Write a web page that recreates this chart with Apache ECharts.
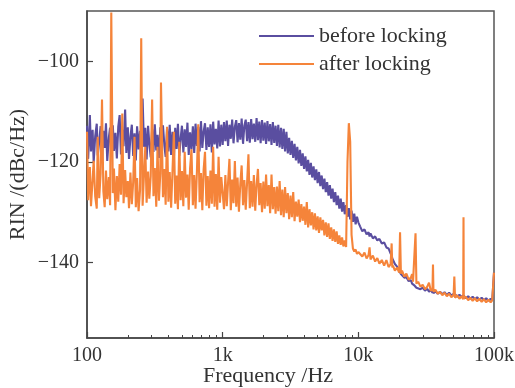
<!DOCTYPE html>
<html><head><meta charset="utf-8">
<script src="https://cdn.jsdelivr.net/npm/echarts@6/dist/echarts.min.js"></script>
<style>html,body{margin:0;padding:0;background:#fff}#c{width:515px;height:388px}</style>
</head><body><div id="c"></div>
<script>
// Frequency grid (Hz), shared by both series
const freq = [
  100,102,105,107,110,112,115,118,120,123, 126,129,132,135,138,141,145,148,151,155,
  158,162,166,170,174,178,182,186,191,195, 200,204,209,214,219,224,229,234,240,246,
  251,257,263,269,275,282,288,295,302,309, 316,324,331,339,347,351,363,372,380,389,
  398,407,417,427,437,447,457,468,479,490, 501,513,525,537,550,562,575,589,603,617,
  631,646,661,676,692,708,724,741,759,776, 794,813,832,851,871,891,912,933,955,977,
  1000,1023,1047,1072,1096,1122,1148,1175,1202,1230, 1259,1288,1318,1349,1380,1413,1445,1479,1514,1549,
  1585,1622,1660,1698,1738,1778,1820,1862,1905,1950, 1995,2042,2089,2138,2188,2239,2291,2344,2399,2455,
  2512,2570,2630,2692,2754,2818,2884,2951,3020,3090, 3162,3236,3311,3388,3467,3548,3631,3715,3802,3890,
  3981,4074,4169,4266,4365,4467,4571,4677,4786,4898, 5012,5129,5248,5370,5495,5623,5754,5888,6026,6166,
  6310,6457,6607,6761,6918,7079,7244,7413,7586,7762, 7943,8128,8318,8511,8710,8913,9120,9333,9550,9772,
  10000,
  10300,10700,11100,11500,11900,12100,12300,12800,13300,13800,14300,14900,15500,16100,16700,17300,17600,17800,18000,18600,
  19300,20000,20300,20600,21000,21800,22600,23500,24400,24900,25300,26000,26400,26800,27600,28700,29800,31000,32200,33200,
  34200,35200,35500,35800,37000,38500,40000,41600,43200,44900,46700,48500,50400,51000,51600,53500,55600,57700,59300,59600,
  59900,62000,64500,67000,69600,72300,75100,78000,81100,84300,87600,91000,94500,97000,98500,99300,100000
];
// RIN before locking (dBc/Hz)
const beforeLocking = [
  -112.8,-119.4,-110.7,-117.9,-113.6,-120.1,-114.8,-112.4,-118.7,-116.0, -112.9,-119.6,-113.8,-117.2,-112.3,-119.8,-115.1,-113.2,-118.9,-112.7,
  -117.8,-114.2,-119.3,-113.0,-110.7,-118.5,-113.6,-116.9,-109.6,-118.2, -113.1,-119.4,-115.0,-112.6,-118.8,-114.3,-119.7,-112.9,-117.5,-113.8,
  -118.6,-107.4,-117.0,-113.2,-119.5,-112.8,-116.4,-119.1,-113.5,-118.0, -112.5,-117.7,-114.6,-119.2,-113.1,-118.4,-112.7,-116.8,-119.0,-113.4,
  -117.9,-112.6,-118.6,-114.0,-119.3,-113.2,-117.4,-112.4,-118.8,-115.3, -112.8,-118.1,-113.5,-117.0,-112.2,-118.6,-114.1,-117.5,-112.9,-118.2,
  -112.4,-116.8,-113.0,-117.9,-111.9,-117.2,-114.0,-112.3,-117.6,-113.1, -117.0,-112.5,-118.1,-112.0,-116.5,-113.4,-117.3,-111.8,-116.9,-112.6,
  -116.6,-112.1,-115.9,-111.8,-116.8,-112.6,-115.4,-111.6,-116.3,-113.0, -111.7,-116.1,-112.3,-115.6,-111.4,-116.4,-112.8,-111.6,-115.9,-112.1,
  -116.2,-111.5,-115.5,-112.4,-116.0,-111.3,-115.7,-112.0,-116.3,-111.7, -115.8,-112.2,-116.4,-111.9,-115.9,-112.5,-116.6,-112.1,-116.2,-112.8,
  -116.8,-112.6,-117.1,-113.2,-117.4,-113.4,-117.9,-114.0,-118.3,-115.2, -118.6,-115.8,-119.2,-116.4,-119.7,-117.0,-120.3,-117.6,-120.8,-118.3,
  -121.4,-118.9,-121.9,-119.6,-122.6,-120.2,-123.1,-120.9,-123.6,-121.5, -124.2,-122.0,-124.8,-122.7,-125.4,-123.3,-126.0,-124.0,-126.7,-124.6,
  -127.3,-125.3,-128.0,-126.0,-128.6,-126.7,-129.3,-127.3,-129.9,-128.0, -130.4,-128.6,-130.9,-129.2,-131.4,-129.7,-131.9,-130.3,-132.4,-130.9,
  -132.0,
  -132.8,-133.8,-133.4,-134.4,-134.0,-134.8,-134.2,-135.2,-134.8,-135.6,-135.3,-136.2,-136.0,-137.0,-137.2,-138.2,-138.6,-139.2,-139.4,-140.3,
  -140.8,-141.6,-141.5,-142.3,-142.2,-143.0,-142.9,-143.7,-143.5,-144.2,-144.0,-144.6,-144.3,-145.0,-144.7,-145.3,-145.0,-145.6,-145.2,-145.8,
  -145.4,-146.0,-145.6,-146.1,-145.7,-146.2,-145.8,-146.3,-145.9,-146.5,-146.0,-146.6,-146.2,-146.7,-146.3,-146.8,-146.4,-146.9,-146.5,-147.0,
  -146.6,-147.1,-146.7,-147.2,-146.8,-147.3,-146.9,-147.4,-147.0,-147.5,-147.1,-147.6,-147.2,-147.6,-147.3,-147.5,-142.0
];
// RIN after locking (dBc/Hz)
const afterLocking = [
  -114.0,-127.6,-121.0,-128.8,-123.5,-119.8,-126.9,-129.3,-115.0,-127.2, -122.4,-107.6,-125.8,-129.0,-121.7,-127.4,-123.0,-128.6,-90.3,-126.2,
  -121.3,-129.6,-122.8,-127.9,-120.4,-126.5,-110.4,-128.2,-121.6,-127.0, -123.8,-129.2,-122.1,-128.4,-124.0,-115.0,-129.0,-123.2,-129.8,-125.6,
  -95.4,-128.7,-122.6,-117.0,-128.1,-121.9,-127.3,-122.8,-107.6,-126.8, -121.2,-128.9,-117.0,-127.7,-122.3,-104.2,-127.0,-121.4,-128.5,-113.0,
  -127.9,-122.0,-129.1,-121.6,-114.0,-128.3,-122.7,-129.4,-116.0,-127.6, -121.8,-128.8,-118.0,-127.1,-122.5,-129.5,-121.3,-117.5,-128.6,-122.6,
  -129.3,-121.9,-112.5,-128.0,-122.2,-129.6,-121.5,-118.0,-128.7,-122.8, -129.2,-121.7,-128.3,-117.0,-128.9,-122.4,-129.5,-119.0,-128.1,-123.0,
  -123.2,-129.4,-122.6,-128.8,-124.1,-119.4,-129.6,-123.5,-128.2,-119.8, -128.9,-123.1,-129.9,-124.4,-120.7,-128.6,-123.6,-129.5,-124.0,-118.5,
  -129.2,-123.8,-128.9,-122.6,-129.7,-124.5,-121.4,-128.6,-124.2,-130.0, -123.9,-129.3,-122.5,-128.8,-124.6,-130.2,-122.5,-129.4,-125.0,-130.3,
  -124.9,-129.8,-123.8,-130.6,-125.5,-131.0,-125.0,-130.2,-126.2,-131.4, -126.7,-131.0,-126.0,-131.8,-127.9,-130.9,-127.5,-132.0,-128.4,-131.7,
  -128.9,-132.5,-128.0,-133.0,-129.4,-132.6,-130.0,-133.4,-130.2,-133.6, -130.8,-134.1,-131.0,-133.6,-131.5,-134.6,-132.0,-134.9,-132.2,-135.3,
  -133.0,-135.7,-133.4,-135.9,-133.8,-136.3,-134.6,-136.5,-135.0,-136.8, -135.6,-136.9,-120.0,-112.3,-116.0,-134.5,-137.2,-137.8,-137.4,-138.3,
  -137.9,
  -137.6,-138.8,-138.0,-139.2,-138.5,-137.0,-139.4,-138.6,-139.8,-139.1,-140.2,-139.5,-140.6,-139.5,-140.9,-140.3,-136.2,-141.0,-140.6,-141.6,
  -141.0,-142.0,-134.0,-142.2,-141.6,-142.8,-142.2,-143.4,-143.0,-142.3,-143.8,-143.5,-134.2,-144.2,-143.8,-144.8,-144.4,-145.3,-144.8,-144.0,
  -145.6,-145.2,-140.4,-145.8,-145.4,-146.2,-145.8,-146.5,-146.0,-146.7,-146.2,-146.9,-146.4,-142.8,-147.0,-146.5,-147.2,-146.7,-147.3,-131.0,
  -147.2,-146.8,-147.5,-147.0,-147.6,-147.1,-147.7,-147.2,-147.8,-147.3,-147.9,-147.4,-147.9,-147.5,-147.8,-147.4,-142.0
];
const yTicks = [-140, -120, -100];
const xMinorTicks = [200,300,400,500,600,700,800,900,2000,3000,4000,5000,6000,7000,8000,9000,20000,30000,40000,50000,60000,70000,80000,90000];

if (freq.length !== beforeLocking.length || freq.length !== afterLocking.length) {
  throw new Error('length mismatch ' + freq.length + ' ' + beforeLocking.length + ' ' + afterLocking.length);
}

const FONT = 'Liberation Serif';
const TXT = '#333';
const chart = echarts.init(document.getElementById('c'), null, {renderer: 'canvas'});
chart.setOption({
  animation: false,
  grid: {left: 87, right: 21, top: 11, bottom: 50, outerBoundsMode: 'none', containLabel: false,
    show: true, borderColor: '#555', borderWidth: 1.5, backgroundColor: 'transparent'},
  legend: {
    orient: 'vertical', left: 254, top: 20, itemGap: 6,
    icon: 'rect', itemWidth: 55, itemHeight: 2,
    textStyle: {fontFamily: FONT, fontSize: 22, color: TXT, lineHeight: 22},
    data: ['before locking', 'after locking']
  },
  xAxis: [{
    type: 'log', logBase: 10, min: 100, max: 100000,
    name: 'Frequency /Hz', nameLocation: 'middle', nameGap: 27, nameMoveOverlap: false,
    nameTextStyle: {fontFamily: FONT, fontSize: 22, color: TXT, padding: [0, 45, 0, 0]},
    axisLine: {show: true, lineStyle: {color: '#444', width: 1.5}},
    axisTick: {show: true, inside: true, length: 6, lineStyle: {color: '#444', width: 1.2}},
    axisLabel: {fontFamily: FONT, fontSize: 20, color: TXT, margin: 8,
      formatter: v => v >= 1000 ? (v / 1000) + 'k' : String(v)},
    splitLine: {show: false}, minorTick: {show: false}
  }, {
    type: 'value', min: 2, max: 5, position: 'bottom', gridIndex: 0,
    axisLine: {show: false}, axisLabel: {show: false}, splitLine: {show: false},
    axisTick: {show: true, inside: true, length: 3, lineStyle: {color: '#444', width: 1},
      customValues: xMinorTicks.map(v => Math.log10(v))}
  }],
  yAxis: {
    type: 'value', min: -155, max: -90,
    name: 'RIN /(dBc/Hz)', nameLocation: 'middle', nameGap: 58, nameRotate: 90, nameMoveOverlap: false,
    nameTextStyle: {fontFamily: FONT, fontSize: 22, color: TXT},
    axisLine: {show: true, lineStyle: {color: '#444', width: 1.5}},
    axisTick: {show: true, inside: true, length: 6, customValues: yTicks, lineStyle: {color: '#444', width: 1.2}},
    axisLabel: {fontFamily: FONT, fontSize: 20, color: TXT, margin: 8, customValues: yTicks,
      formatter: v => String(v).replace('-', '\u2212')},
    splitLine: {show: false}
  },
  series: [{
    name: 'before locking', type: 'line', xAxisIndex: 0,
    data: freq.map((f, i) => [f, beforeLocking[i]]),
    symbol: 'none', showSymbol: false, sampling: null,
    lineStyle: {color: '#5a4ea0', width: 2.1}, itemStyle: {color: '#5a4ea0'}, z: 2
  }, {
    name: 'after locking', type: 'line', xAxisIndex: 0,
    data: freq.map((f, i) => [f, afterLocking[i]]),
    symbol: 'none', showSymbol: false, sampling: null,
    lineStyle: {color: '#f5843a', width: 2.1}, itemStyle: {color: '#f5843a'}, z: 3
  }]
});
</script>
</body></html>
